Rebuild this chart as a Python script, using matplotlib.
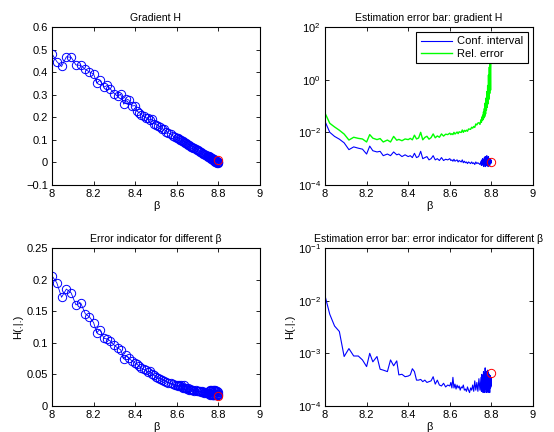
import numpy as np
import matplotlib
matplotlib.use('Agg')
import matplotlib.pyplot as plt
from matplotlib.ticker import NullLocator, FixedLocator

plt.rcParams['font.family'] = ['Liberation Sans', 'DejaVu Sans']
plt.rcParams['font.size'] = 8

# beta grid (shared by every panel)
beta = [8.000, 8.023, 8.046, 8.069, 8.092, 8.115, 8.138, 8.160, 8.180, 8.200,
        8.215, 8.230, 8.250, 8.265, 8.280, 8.300, 8.315, 8.330, 8.345, 8.355, 8.370, 8.385, 8.400,
        8.41, 8.42, 8.43, 8.44, 8.45, 8.46, 8.47, 8.48, 8.49, 8.50,
        8.51, 8.52, 8.53, 8.54, 8.55, 8.56, 8.57, 8.58, 8.59, 8.60,
        8.605, 8.61, 8.615, 8.62, 8.625, 8.63, 8.635, 8.64, 8.645, 8.65,
        8.655, 8.66, 8.665, 8.67, 8.675, 8.68, 8.685, 8.69, 8.695, 8.70,
        8.705, 8.71, 8.715, 8.72, 8.725, 8.73, 8.735, 8.74, 8.745, 8.75,
        8.752, 8.754, 8.756, 8.758, 8.760, 8.762, 8.764, 8.766, 8.768, 8.770,
        8.772, 8.774, 8.776, 8.778, 8.780, 8.782, 8.784, 8.786, 8.788, 8.790,
        8.792, 8.794, 8.796, 8.798, 8.800]

grad_H = [0.481, 0.447, 0.425, 0.468, 0.466, 0.432, 0.430, 0.412, 0.401, 0.392,
          0.352, 0.364, 0.334, 0.341, 0.326, 0.305, 0.293, 0.302, 0.258, 0.282, 0.276, 0.250, 0.252,
          0.226, 0.221, 0.212, 0.205, 0.198, 0.196, 0.188, 0.192, 0.172, 0.168,
          0.163, 0.158, 0.149, 0.146, 0.137, 0.130, 0.126, 0.118, 0.112, 0.110,
          0.107, 0.104, 0.101, 0.098, 0.095, 0.093, 0.090, 0.087, 0.084, 0.081,
          0.079, 0.076, 0.073, 0.070, 0.067, 0.064, 0.062, 0.059, 0.056, 0.053,
          0.050, 0.048, 0.045, 0.042, 0.039, 0.036, 0.034, 0.031, 0.028, 0.029,
          0.024, 0.027, 0.022, 0.024, 0.019, 0.022, 0.017, 0.020, 0.014, 0.018,
          0.012, 0.015, 0.009, 0.013, 0.007, 0.011, 0.004, 0.010, 0.002, 0.008,
          -0.001, 0.006, -0.003, 0.004, 0.001]

conf_grad = [2.6e-2, 1.0e-2, 7e-3, 5.5e-3, 4e-3, 2.2e-3, 2.8e-3, 2.5e-3, 2.3e-3, 1.5e-3,
             3.0e-3, 2.0e-3, 1.8e-3, 1.9e-3, 1.3e-3, 1.5e-3, 1.3e-3, 1.8e-3, 1.4e-3, 1.5e-3, 1.2e-3, 1.4e-3, 1.2e-3,
             1.3e-3, 1.1e-3, 1.6e-3, 1.1e-3, 1.2e-3, 1.9e-3, 1.0e-3, 1.1e-3, 1.2e-3, 9e-4,
             1.0e-3, 1.3e-3, 9e-4, 1.0e-3, 8.5e-4, 1.1e-3, 8.5e-4, 9.5e-4, 9e-4, 1.0e-3,
             8.5e-4, 9e-4, 8e-4, 9.5e-4, 8e-4, 8.5e-4, 9e-4, 7.5e-4, 8.5e-4, 8e-4,
             7.5e-4, 9e-4, 7e-4, 8e-4, 7e-4, 7.5e-4, 6.5e-4, 7.5e-4, 7e-4, 6.5e-4,
             7.5e-4, 6.5e-4, 7e-4, 6e-4, 7.5e-4, 6.5e-4, 7e-4, 6.5e-4, 6e-4, 8e-4,
             5.5e-4, 9e-4, 6e-4, 1.0e-3, 5.5e-4, 9e-4, 5e-4, 1.1e-3, 6e-4, 1.2e-3,
             5e-4, 1.2e-3, 5.5e-4, 1.3e-3, 6e-4, 1.1e-3, 5e-4, 1.2e-3, 6.5e-4, 1.0e-3,
             5.5e-4, 1.0e-3, 6.5e-4, 9e-4, 7e-4]

rel_err = [5.4e-2, 2.2e-2, 1.6e-2, 1.2e-2, 8.6e-3, 5.1e-3, 6.5e-3, 5.9e-3, 5.6e-3, 4.3e-3,
           8.2e-3, 6.0e-3, 5.3e-3, 5.8e-3, 4.3e-3, 5.1e-3, 4.3e-3, 7.0e-3, 5.0e-3, 5.4e-3, 4.8e-3, 5.6e-3, 5.3e-3,
           5.9e-3, 5.2e-3, 7.8e-3, 5.6e-3, 6.1e-3, 1.0e-2, 5.2e-3, 6.4e-3, 7.1e-3, 5.5e-3,
           6.3e-3, 8.7e-3, 6.2e-3, 7.3e-3, 6.5e-3, 8.7e-3, 7.2e-3, 8.5e-3, 8.2e-3, 9.3e-3,
           8.2e-3, 8.9e-3, 8.2e-3, 1.0e-2, 8.6e-3, 9.4e-3, 1.03e-2, 8.9e-3, 1.05e-2, 1.01e-2,
           9.9e-3, 1.23e-2, 1.0e-2, 1.19e-2, 1.09e-2, 1.21e-2, 1.10e-2, 1.34e-2, 1.32e-2, 1.30e-2,
           1.56e-2, 1.44e-2, 1.67e-2, 1.54e-2, 2.08e-2, 1.91e-2, 2.26e-2, 2.32e-2, 2.0e-2, 3.0e-2,
           2.4e-2, 3.8e-2, 2.8e-2, 4.5e-2, 3.0e-2, 6.0e-2, 3.5e-2, 8.0e-2, 4.0e-2, 1.3e-1,
           5.0e-2, 2.0e-1, 7.0e-2, 3.5e-1, 9.0e-2, 6.0e-1, 1.2e-1, 1.5, 1.8e-1, 3.0,
           3.0e-1, 6.0, 4.0e-1, 12.0, 25.0]

err_ind = [0.206, 0.195, 0.172, 0.185, 0.179, 0.160, 0.163, 0.146, 0.141, 0.132,
           0.116, 0.121, 0.107, 0.106, 0.103, 0.096, 0.092, 0.089, 0.075, 0.080, 0.076, 0.071, 0.068,
           0.066, 0.063, 0.060, 0.058, 0.057, 0.054, 0.055, 0.050, 0.049, 0.046,
           0.044, 0.043, 0.041, 0.040, 0.038, 0.037, 0.036, 0.035, 0.034, 0.033,
           0.032, 0.033, 0.031, 0.034, 0.030, 0.029, 0.033, 0.028, 0.029, 0.027,
           0.028, 0.026, 0.027, 0.025, 0.026, 0.025, 0.024, 0.025, 0.023, 0.024,
           0.023, 0.024, 0.022, 0.023, 0.022, 0.021, 0.022, 0.021, 0.020, 0.021,
           0.020, 0.023, 0.019, 0.024, 0.018, 0.025, 0.019, 0.026, 0.018, 0.024,
           0.017, 0.025, 0.018, 0.026, 0.017, 0.024, 0.018, 0.025, 0.017, 0.023,
           0.018, 0.024, 0.017, 0.022, 0.019]

conf_ind = [1.24e-2, 5.5e-3, 3.3e-3, 2.6e-3, 8.7e-4, 1.23e-3, 8.9e-4, 8.9e-4, 7.5e-4, 5.6e-4,
            1.0e-3, 6.9e-4, 8.7e-4, 5.0e-4, 4.8e-4, 4.5e-4, 7.5e-4, 5.8e-4, 7.2e-4, 3.9e-4, 4.0e-4, 3.6e-4, 3.7e-4,
            3.9e-4, 5.1e-4, 4.5e-4, 3.1e-4, 3.1e-4, 3.2e-4, 2.9e-4, 3.1e-4, 2.8e-4, 2.9e-4,
            3.0e-4, 3.6e-4, 2.6e-4, 3.1e-4, 2.5e-4, 2.4e-4, 2.7e-4, 2.3e-4, 2.5e-4, 2.4e-4,
            2.8e-4, 2.2e-4, 3.5e-4, 2.2e-4, 2.6e-4, 2.1e-4, 2.5e-4, 2.2e-4, 2.4e-4, 2.0e-4,
            2.3e-4, 2.2e-4, 2.5e-4, 2.0e-4, 2.1e-4, 1.9e-4, 2.3e-4, 2.0e-4, 1.8e-4, 2.2e-4,
            2.0e-4, 2.5e-4, 1.9e-4, 3.0e-4, 2.0e-4, 2.8e-4, 1.9e-4, 3.3e-4, 2.0e-4, 3.5e-4,
            1.9e-4, 4.0e-4, 2.0e-4, 3.8e-4, 1.8e-4, 4.5e-4, 2.0e-4, 4.2e-4, 1.8e-4, 5.3e-4,
            2.1e-4, 4.6e-4, 1.8e-4, 4.4e-4, 1.9e-4, 4.8e-4, 1.8e-4, 4.3e-4, 2.0e-4, 4.0e-4,
            1.8e-4, 3.8e-4, 2.2e-4, 3.5e-4, 2.4e-4]

# red circles mark the final beta
last_beta = 8.8
last_grad, last_conf_grad = 0.01, 7.7e-4
last_ind, last_conf_ind = 0.016, 4.3e-4

W, H = 554, 432
fig = plt.figure(figsize=(W / 100, H / 100), dpi=100)

def pix_axes(x0, y0, x1, y1):
    return fig.add_axes([x0 / W, 1 - y1 / H, (x1 - x0) / W, (y1 - y0) / H])

def style(ax):
    ax.tick_params(direction='in', top=True, right=True, length=3, width=0.6, pad=3)
    for s in ax.spines.values():
        s.set_linewidth(0.8)
    ax.set_xlim(8, 9)
    ax.set_xticks([8, 8.2, 8.4, 8.6, 8.8, 9])
    ax.set_xticklabels(['8', '8.2', '8.4', '8.6', '8.8', '9'])
    ax.set_xlabel('β', labelpad=1)

def logstyle(ax, lo, hi, step):
    ax.set_yscale('log')
    ax.set_ylim(10.0 ** lo, 10.0 ** hi)
    ax.yaxis.set_major_locator(FixedLocator([10.0 ** e for e in range(lo, hi + 1, step)]))
    ax.yaxis.set_minor_locator(NullLocator())

def title(ax, s):
    ax.set_title(s, pad=4, fontsize=7.6)

mk = dict(marker='o', ms=6, mfc='none', mec='b', mew=0.7, color='b', lw=0.6)
red = dict(marker='o', ms=6, mfc='none', mec='r', mew=0.7, ls='none')

# top left
ax1 = pix_axes(52, 27, 260, 185)
ax1.plot(beta, grad_H, **mk)
ax1.plot([last_beta], [last_grad], **red)
style(ax1)
ax1.set_ylim(-0.1, 0.6)
ax1.set_yticks([-0.1, 0, 0.1, 0.2, 0.3, 0.4, 0.5, 0.6])
ax1.set_yticklabels(['\u22120.1', '0', '0.1', '0.2', '0.3', '0.4', '0.5', '0.6'])
title(ax1, 'Gradient H')

# top right
ax2 = pix_axes(325, 27, 533, 185)
ax2.plot(beta, conf_grad, color='b', lw=0.8, label='Conf. interval')
ax2.plot(beta, rel_err, color='#00ff00', lw=1.0, label='Rel. error')
ax2.plot([last_beta], [last_conf_grad], **red)
style(ax2)
logstyle(ax2, -4, 2, 2)
title(ax2, 'Estimation error bar: gradient H')
leg = ax2.legend(loc='upper right', fancybox=False, edgecolor='k', framealpha=1,
                 borderaxespad=0.45, handlelength=2.8, handletextpad=0.5,
                 borderpad=0.4, labelspacing=0.2)
leg.get_frame().set_linewidth(0.8)

# bottom left
ax3 = pix_axes(52, 248, 260, 406)
ax3.plot(beta, err_ind, **mk)
ax3.plot([last_beta], [last_ind], **red)
style(ax3)
ax3.set_ylim(0, 0.25)
ax3.set_yticks([0, 0.05, 0.1, 0.15, 0.2, 0.25])
ax3.set_yticklabels(['0', '0.05', '0.1', '0.15', '0.2', '0.25'])
ax3.set_ylabel('H(.|.)', labelpad=2)
title(ax3, 'Error indicator for different β')

# bottom right
ax4 = pix_axes(325, 248, 533, 406)
ax4.plot(beta, conf_ind, color='b', lw=0.8)
ax4.plot([last_beta], [last_conf_ind], **red)
style(ax4)
logstyle(ax4, -4, -1, 1)
ax4.set_ylabel('H(.|.)', labelpad=2)
title(ax4, 'Estimation error bar: error indicator for different β')

fig.savefig('out.png', dpi=100)
